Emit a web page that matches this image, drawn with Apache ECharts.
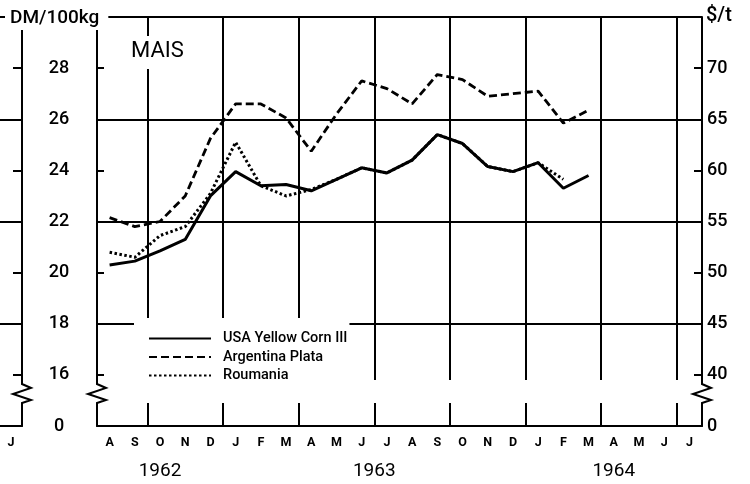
<!DOCTYPE html>
<html>
<head>
<meta charset="utf-8">
<script src="https://cdn.jsdelivr.net/npm/echarts@6/dist/echarts.min.js"></script>
<style>
  html, body { margin: 0; background: #fff; }
  #main { width: 750px; height: 484px; }
</style>
</head>
<body>
<div id="main"></div>
<script>
// months Aug 1962 .. Jul 1964
var months = ['A', 'S', 'O', 'N', 'D',
  'J', 'F', 'M', 'A', 'M', 'J', 'J', 'A', 'S', 'O', 'N', 'D',
  'J', 'F', 'M', 'A', 'M', 'J', 'J'];
var years = ['1962', '1963', '1964'];
var monthsPerYear = [5, 12, 7];

// DM/100kg
var usaYellowCorn = [20.3, 20.45, 20.85, 21.3, 23.0, 23.95, 23.4, 23.45, 23.2, 23.65, 24.1, 23.9,
  24.4, 25.4, 25.05, 24.15, 23.95, 24.3, 23.3, 23.8, null, null, null, null];
var argentinaPlata = [22.15, 21.8, 22.0, 23.0, 25.25, 26.6, 26.6, 26.05, 24.75, 26.2, 27.5, 27.2,
  26.6, 27.75, 27.55, 26.9, 27.0, 27.1, 25.85, 26.35, null, null, null, null];
var roumania = [20.8, 20.6, 21.45, 21.8, 23.1, 25.1, 23.4, 23.0, 23.25, 23.65, 24.1, 23.9,
  24.4, 25.4, 25.05, 24.15, 23.95, 24.3, 23.65, null, null, null, null, null];

var FONT = 'Roboto';
var GRID_LEFT = 97, GRID_RIGHT = 48, GRID_TOP = 17, GRID_BOTTOM = 58;

// year label positions: centre of each year's span, in month units
var yearCenters = [];
var acc = 0;
monthsPerYear.forEach(function (n) { yearCenters.push(acc + n / 2); acc += n; });

function isQuarterStart(i) { return i >= 2 && (i - 2) % 3 === 0; }
function isYearStart(i) { return i === 5 || i === 17; }

var chartDom = document.getElementById('main');
var myChart = echarts.init(chartDom);
var black = '#000';
var option = {
  animation: false,
  backgroundColor: '#fff',
  title: [
    {
      text: 'MAIS', left: 129, top: 36,
      padding: [4, 2, 7, 2], backgroundColor: '#fff',
      textStyle: { fontFamily: FONT, fontSize: 22, fontWeight: 'normal', color: black }
    },
    {
      text: 'DM/100kg', left: 5, top: 7,
      padding: [2, 9, 2, 5], backgroundColor: '#fff',
      textStyle: { fontFamily: FONT, fontSize: 19, fontWeight: 500, color: black }
    },
    {
      text: '$/t', left: 704, top: 4, padding: [2, 2],
      textStyle: { fontFamily: FONT, fontSize: 20, fontWeight: 500, color: black }
    }
  ],
  legend: {
    data: ['USA Yellow Corn III', 'Argentina Plata', 'Roumania'],
    orient: 'vertical',
    left: 134, top: 318,
    padding: [13, 2, 4, 14],
    backgroundColor: '#fff',
    itemWidth: 62, itemHeight: 12, itemGap: 3.5,
    itemStyle: { opacity: 0 },
    textStyle: { fontFamily: FONT, fontSize: 14.5, fontWeight: 500, color: black,
      lineHeight: 14, padding: [0, 0, 0, 7] }
  },
  grid: [
    { left: GRID_LEFT, right: GRID_RIGHT, top: GRID_TOP, bottom: GRID_BOTTOM, outerBoundsMode: 'none' },
    { left: 0, width: 22, top: GRID_TOP, bottom: GRID_BOTTOM, outerBoundsMode: 'none' }
  ],
  xAxis: [
    { // months, minor ticks, quarterly grid lines
      type: 'category', gridIndex: 0, position: 'bottom', data: months, boundaryGap: true,
      axisLine: { lineStyle: { color: black, width: 2 } },
      axisTick: { inside: true, length: 9, interval: 0, lineStyle: { color: black, width: 2 } },
      axisLabel: { interval: 0, margin: 10, fontFamily: FONT, fontSize: 12.5, fontWeight: 'bold', color: black },
      splitLine: { show: true, interval: function (i) { return isQuarterStart(i); },
        lineStyle: { color: black, width: 2 } }
    },
    { // quarterly long ticks
      type: 'category', gridIndex: 0, position: 'bottom', data: months, boundaryGap: true,
      axisLine: { show: false },
      axisTick: { inside: true, length: 22, interval: function (i) { return isQuarterStart(i); },
        lineStyle: { color: black, width: 2 } },
      axisLabel: { show: false }, splitLine: { show: false }
    },
    { // year separators below the axis
      type: 'category', gridIndex: 0, position: 'bottom', data: months, boundaryGap: true,
      axisLine: { show: false },
      axisTick: { inside: false, length: 55, interval: function (i) { return isYearStart(i); },
        lineStyle: { color: black, width: 2 } },
      axisLabel: { show: false }, splitLine: { show: false }
    },
    { // year labels
      type: 'value', gridIndex: 0, position: 'bottom', min: 0, max: months.length,
      axisLine: { show: false }, axisTick: { show: false }, splitLine: { show: false },
      axisLabel: {
        customValues: yearCenters, margin: 36,
        fontFamily: FONT, fontSize: 19, color: black,
        formatter: function (v) { var k = yearCenters.indexOf(v); return k < 0 ? '' : years[k]; }
      }
    },
    { // neighbouring panel, last month
      type: 'category', gridIndex: 1, position: 'bottom', data: ['J'],
      axisLine: { lineStyle: { color: black, width: 2 } },
      axisTick: { show: false },
      axisLabel: { margin: 10, fontFamily: FONT, fontSize: 12.5, fontWeight: 'bold', color: black },
      splitLine: { show: false }
    }
  ],
  yAxis: [
    { // DM/100kg
      type: 'value', gridIndex: 0, position: 'left', min: 14, max: 30, interval: 2,
      axisLine: { show: true, lineStyle: { color: black, width: 2 } },
      axisTick: { show: true, inside: true, length: 7, lineStyle: { color: black, width: 2 } },
      axisLabel: {
        margin: 38, align: 'center', fontFamily: FONT, fontSize: 18, fontWeight: 500, color: black,
        formatter: function (v) { return v === 14 ? '0' : (v >= 30 ? '' : String(v)); }
      },
      splitLine: { show: false }
    },
    { // $/t
      type: 'value', gridIndex: 0, position: 'right', min: 35, max: 75, interval: 5,
      axisLine: { show: true, lineStyle: { color: black, width: 2 } },
      axisTick: { show: true, inside: true, length: 8, lineStyle: { color: black, width: 2 } },
      axisLabel: {
        margin: 5, fontFamily: FONT, fontSize: 18, fontWeight: 500, color: black,
        formatter: function (v) { return v === 35 ? '0' : (v >= 75 ? '' : String(v)); }
      },
      splitLine: { show: false }
    },
    { // horizontal grid lines every 4 DM (top one is the frame)
      type: 'value', gridIndex: 0, position: 'left', min: 14, max: 30, interval: 4,
      axisLine: { show: false }, axisTick: { show: false }, axisLabel: { show: false },
      splitLine: { show: true, lineStyle: { color: black, width: 2 } }
    },
    { // neighbouring panel axis
      type: 'value', gridIndex: 1, position: 'right', min: 14, max: 30, interval: 2,
      axisLine: { show: true, lineStyle: { color: black, width: 2 } },
      axisTick: { show: true, inside: true, length: 9, lineStyle: { color: black, width: 2 } },
      axisLabel: { show: false }, splitLine: { show: false }
    },
    {
      type: 'value', gridIndex: 1, position: 'right', min: 14, max: 30, interval: 4,
      axisLine: { show: false }, axisTick: { show: false }, axisLabel: { show: false },
      splitLine: { show: true, lineStyle: { color: black, width: 2 } }
    }
  ],
  series: [
    {
      name: 'USA Yellow Corn III', type: 'line', xAxisIndex: 0, yAxisIndex: 0,
      data: usaYellowCorn, symbol: 'none', z: 4,
      itemStyle: { color: black },
      lineStyle: { color: black, width: 3 }
    },
    {
      name: 'Argentina Plata', type: 'line', xAxisIndex: 0, yAxisIndex: 0,
      data: argentinaPlata, symbol: 'none', z: 3,
      itemStyle: { color: black },
      lineStyle: { color: black, width: 2.8, type: [8, 4] }
    },
    {
      name: 'Roumania', type: 'line', xAxisIndex: 0, yAxisIndex: 0,
      data: roumania, symbol: 'none', z: 3,
      itemStyle: { color: black },
      lineStyle: { color: black, width: 3, type: [2.5, 2.5] }
    }
  ]
};
myChart.setOption(option);

// axis breaks between 0 and 16 (zig-zags)
var bandTop = myChart.convertToPixel({ yAxisIndex: 0 }, 15.8);
var bandBot = myChart.convertToPixel({ yAxisIndex: 0 }, 14.9);
var plotRight = 750 - GRID_RIGHT;
function zig(x) {
  return {
    type: 'polyline', z: 101,
    shape: { points: [[x, bandTop - 1], [x, bandTop + 4], [x + 9, bandTop + 8], [x - 9, bandTop + 14],
      [x + 9, bandTop + 20], [x, bandTop + 23], [x, bandBot + 1]] },
    style: { stroke: black, lineWidth: 2, fill: null }
  };
}
myChart.setOption({
  graphic: [
    { type: 'rect', z: 100, shape: { x: GRID_LEFT - 2, y: bandTop, width: plotRight - GRID_LEFT + 4, height: bandBot - bandTop },
      style: { fill: '#fff' } },
    { type: 'rect', z: 100, shape: { x: 0, y: bandTop, width: 24, height: bandBot - bandTop },
      style: { fill: '#fff' } },
    zig(22), zig(GRID_LEFT), zig(plotRight)
  ]
});
</script>
</body>
</html>
